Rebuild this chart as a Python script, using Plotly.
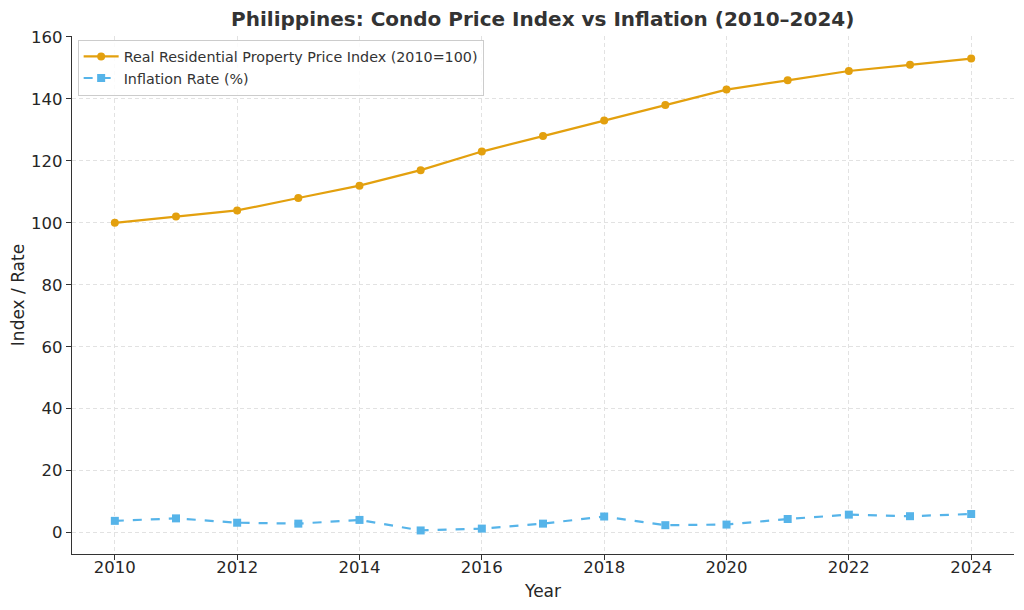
import plotly.graph_objects as go

years = list(range(2010, 2025))
price_index = [100, 102, 104, 108, 112, 117, 123, 128, 133, 138, 143, 146, 149, 151, 153]
inflation = [3.8, 4.6, 3.2, 2.9, 4.1, 0.7, 1.3, 2.9, 5.2, 2.4, 2.6, 4.4, 5.8, 5.3, 6.0]

fig = go.Figure()
fig.add_trace(go.Scatter(
    x=years, y=price_index, mode="lines+markers",
    name="Real Residential Property Price Index (2010=100)",
    line=dict(color="#E3A00E", width=2.2),
    marker=dict(symbol="circle", size=8, color="#E3A00E"),
))
fig.add_trace(go.Scatter(
    x=years, y=inflation, mode="lines+markers",
    name="Inflation Rate (%)",
    line=dict(color="#56B4E9", width=2.2, dash="dash"),
    marker=dict(symbol="square", size=8, color="#56B4E9"),
))

fig.update_layout(
    width=1024, height=610,
    paper_bgcolor="white", plot_bgcolor="white",
    font=dict(family="DejaVu Sans", size=16.5, color="#262626"),
    title=dict(text="<b>Philippines: Condo Price Index vs Inflation (2010–2024)</b>",
               x=0.53, xanchor="center", y=0.969, yanchor="middle",
               font=dict(size=20, color="#333333")),
    margin=dict(l=72, r=10, t=36, b=56),
    showlegend=True,
    legend=dict(x=0.006, y=0.993, xanchor="left", yanchor="top",
                bgcolor="rgba(255,255,255,0.85)", bordercolor="#CCCCCC", borderwidth=1,
                font=dict(size=14.3, color="#333333"), tracegroupgap=0, itemwidth=35),
    xaxis=dict(range=[2009.3, 2024.7], tickmode="array", tickvals=list(range(2010, 2025, 2)),
               title=dict(text="Year", standoff=9, font=dict(size=17)), showgrid=True,
               gridcolor="#E2E2E2", griddash="4px,3px", gridwidth=1, showline=True,
               linecolor="#333333", linewidth=1.2, automargin=False, ticklabelstandoff=-7,
               ticks="outside", ticklen=5, tickcolor="#333333", zeroline=False),
    yaxis=dict(range=[-6.9, 160.3], tickmode="array", tickvals=list(range(0, 161, 20)),
               title=dict(text="Index / Rate", standoff=2, font=dict(size=17)), showgrid=True,
               gridcolor="#E2E2E2", griddash="4px,3px", gridwidth=1, showline=True,
               linecolor="#333333", linewidth=1.2, automargin=False,
               ticks="outside", ticklen=5, tickcolor="#333333", zeroline=False),
)

fig.write_html("out.html", config={"displayModeBar": False},
               post_script="document.body.style.margin='0';")
